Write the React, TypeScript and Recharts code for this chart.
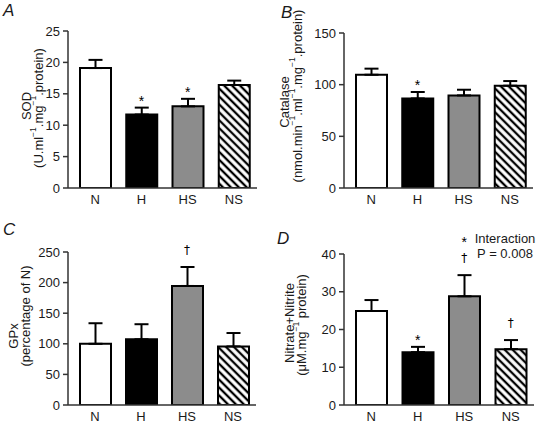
import React from "react";
import { BarChart, Bar, XAxis, YAxis, Cell, ErrorBar, ReferenceDot } from "recharts";

const groups = ["N", "H", "HS", "NS"];
const fills = ["#ffffff", "#000000", "#8c8c8c", "url(#hatch)"];

// A: SOD
const sodMean = [19.1, 11.7, 13.0, 16.4];
const sodSem = [1.3, 1.1, 1.2, 0.7];
const sodMarks = ["", "*", "*", ""];
const sodTicks = [0, 5, 10, 15, 20, 25];

// B: catalase
const catMean = [109.6, 86.7, 89.6, 99.0];
const catSem = [5.9, 6.2, 5.5, 4.5];
const catMarks = ["", "*", "", ""];
const catTicks = [0, 50, 100, 150];

// C: GPx
const gpxMean = [100, 107.4, 194.5, 95.7];
const gpxSem = [33.6, 24.6, 31.0, 21.9];
const gpxMarks = ["", "", "†", ""];
const gpxTicks = [0, 50, 100, 150, 200, 250];

// D: nitrate + nitrite
const noxMean = [24.9, 14.0, 28.8, 14.8];
const noxSem = [2.9, 1.4, 5.6, 2.4];
const noxMarks = ["", "*", "*†", "†"];
const noxTicks = [0, 10, 20, 30, 40];

const ink = "#1a1a1a";
const axisStyle = { stroke: "#333", strokeWidth: 1.5 };

// "^" toggles superscript
const SupText = ({ s }: { s: string }) => {
  const parts = s.split("^");
  return (
    <>
      {parts.map((p, i) => {
        const sup = i % 2 === 1;
        const prevSup = i > 0 && (i - 1) % 2 === 1;
        return (
          <tspan key={i} fontSize={sup ? 8.5 : 13} dy={sup ? -5 : prevSup ? 5 : 0}>
            {p}
          </tspan>
        );
      })}
    </>
  );
};

const YTitle = ({ lines, xs, ys }: { lines: string[]; xs: number[]; ys: number[] }) => (
  <g>
    {lines.map((ln, i) => (
      <text
        key={i}
        x={xs[i]}
        y={ys[i]}
        transform={`rotate(-90 ${xs[i]} ${ys[i]})`}
        textAnchor="middle"
        dominantBaseline="central"
        fontSize={13}
        fill={ink}
      >
        <SupText s={ln} />
      </text>
    ))}
  </g>
);

// significance marks sit above the error-bar cap
const Mark = ({ cx, cy, mark }: any) => {
  const dagger = mark.includes("†");
  const star = mark.includes("*");
  return (
    <g>
      {dagger && (
        <text
          x={cx}
          y={cy - 13}
          textAnchor="middle"
          fontSize={12}
          fontFamily="'DejaVu Sans', sans-serif"
          fill="#000"
        >
          †
        </text>
      )}
      {star && (
        <text x={cx} y={dagger ? cy - 28 : cy - 2} textAnchor="middle" fontSize={14} fill="#000">
          *
        </text>
      )}
    </g>
  );
};

type PanelProps = {
  left: number;
  top: number;
  width: number;
  height: number;
  margin: { top: number; right: number; bottom: number; left: number };
  yWidth: number;
  means: number[];
  sems: number[];
  marks: string[];
  ticks: number[];
  title: string[];
  titleX: number[];
  titleY: number[];
};

const Panel = (p: PanelProps) => {
  const data = groups.map((g, i) => ({ name: g, value: p.means[i], err: [0, p.sems[i]] }));
  const max = p.ticks[p.ticks.length - 1];
  return (
    <div style={{ position: "absolute", left: p.left, top: p.top }}>
      <BarChart width={p.width} height={p.height} data={data} margin={p.margin}>
        <XAxis
          dataKey="name"
          tickLine={false}
          tickSize={5}
          tickMargin={2}
          height={20}
          padding={{ left: 4, right: 0 }}
          axisLine={axisStyle}
          tick={{ fontSize: 13, fill: ink }}
          interval={0}
        />
        <YAxis
          type="number"
          domain={[0, max]}
          ticks={p.ticks}
          interval={0}
          width={p.yWidth}
          tickSize={5}
          tickMargin={3}
          axisLine={axisStyle}
          tickLine={axisStyle}
          tick={{ fontSize: 13, fill: ink }}
          allowDataOverflow
          label={<YTitle lines={p.title} xs={p.titleX} ys={p.titleY} />}
        />
        <Bar dataKey="value" barSize={31} stroke="#000" strokeWidth={2} isAnimationActive={false}>
          {data.map((d, i) => (
            <Cell key={d.name} fill={fills[i]} />
          ))}
          <ErrorBar dataKey="err" direction="y" width={7} stroke="#000" strokeWidth={2} />
        </Bar>
        {groups.map((g, i) =>
          p.marks[i] ? (
            <ReferenceDot
              key={g}
              x={g}
              y={p.means[i] + p.sems[i]}
              r={0}
              ifOverflow="visible"
              shape={(s: any) => <Mark cx={s.cx} cy={s.cy} mark={p.marks[i]} />}
            />
          ) : null
        )}
      </BarChart>
    </div>
  );
};

const Letter = ({ ch, left, top }: { ch: string; left: number; top: number }) => (
  <div
    style={{
      position: "absolute",
      left,
      top,
      fontSize: 17,
      lineHeight: "17px",
      fontStyle: "italic",
      color: ink,
    }}
  >
    {ch}
  </div>
);

export default function App() {
  return (
    <div
      style={{
        position: "absolute",
        left: 0,
        top: 0,
        width: 537,
        height: 425,
        background: "#fff",
        fontFamily: "'Liberation Sans', Arial, sans-serif",
        overflow: "hidden",
      }}
    >
      <svg width={0} height={0} style={{ position: "absolute" }}>
        <defs>
          <pattern
            id="hatch"
            patternUnits="userSpaceOnUse"
            width={5.6}
            height={5.6}
            patternTransform="rotate(-45)"
          >
            <rect width={5.6} height={5.6} fill="#fff" />
            <line x1={2.8} y1={0} x2={2.8} y2={5.6} stroke="#000" strokeWidth={2.3} />
          </pattern>
        </defs>
      </svg>

      <Panel
        left={0}
        top={0}
        width={268}
        height={212}
        margin={{ top: 31, right: 11, bottom: 4, left: 0 }}
        yWidth={68}
        means={sodMean}
        sems={sodSem}
        marks={sodMarks}
        ticks={sodTicks}
        title={["SOD", "(U.ml^−1^.mg^−1^.protein)"]}
        titleX={[26, 38]}
        titleY={[106, 108]}
      />
      <Panel
        left={268}
        top={0}
        width={269}
        height={212}
        margin={{ top: 33, right: 4, bottom: 4, left: 0 }}
        yWidth={76}
        means={catMean}
        sems={catSem}
        marks={catMarks}
        ticks={catTicks}
        title={["Catalase", "(nmol.min^−1^.ml^−1^.mg^−1^.protein)"]}
        titleX={[16, 29]}
        titleY={[102, 96]}
      />
      <Panel
        left={0}
        top={212}
        width={268}
        height={213}
        margin={{ top: 40, right: 12, bottom: 0, left: 0 }}
        yWidth={68}
        means={gpxMean}
        sems={gpxSem}
        marks={gpxMarks}
        ticks={gpxTicks}
        title={["GPx", "(percentage of N)"]}
        titleX={[13, 25]}
        titleY={[124, 104]}
      />
      <Panel
        left={268}
        top={212}
        width={269}
        height={213}
        margin={{ top: 42, right: 3, bottom: 0, left: 0 }}
        yWidth={76}
        means={noxMean}
        sems={noxSem}
        marks={noxMarks}
        ticks={noxTicks}
        title={["Nitrate+Nitrite", "(μM.mg^−1^ protein)"]}
        titleX={[21, 33]}
        titleY={[111, 113]}
      />

      <Letter ch="A" left={3} top={2} />
      <Letter ch="B" left={281} top={4} />
      <Letter ch="C" left={3} top={221} />
      <Letter ch="D" left={277} top={230} />

      <div
        style={{
          position: "absolute",
          left: 473,
          top: 231,
          width: 64,
          textAlign: "center",
          fontSize: 13,
          lineHeight: "15px",
          color: ink,
        }}
      >
        Interaction
        <br />P = 0.008
      </div>
    </div>
  );
}
